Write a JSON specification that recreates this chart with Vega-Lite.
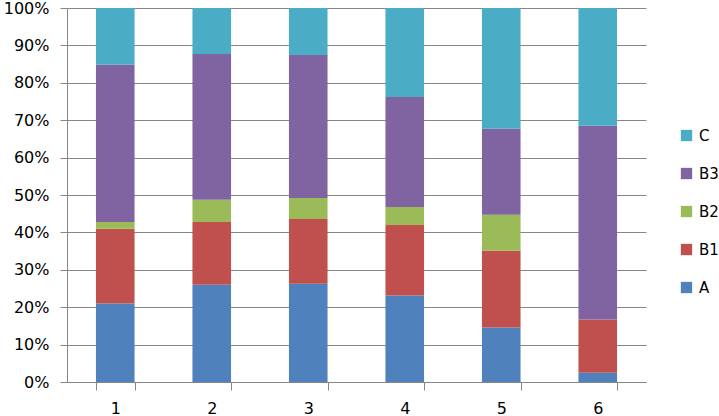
{
  "$schema": "https://vega.github.io/schema/vega-lite/v6.json",
  "width": 579,
  "height": 374,
  "autosize": {"type": "none"},
  "padding": {"left": 67, "top": 8, "right": 73, "bottom": 34},
  "background": "white",
  "config": {
    "view": {"stroke": null},
    "font": "DejaVu Sans",
    "axis": {"labelFont": "DejaVu Sans", "labelFontSize": 16, "labelColor": "#000000", "domainColor": "#868686", "tickColor": "#868686", "gridColor": "#868686", "domainWidth": 1, "tickWidth": 1, "gridWidth": 1},
    "legend": {"labelFont": "DejaVu Sans", "labelFontSize": 15, "labelColor": "#000000"}
  },
  "data": {
    "values": [
      {"cat": "1", "series": "A", "value": 21.0},
      {"cat": "1", "series": "B1", "value": 20.0},
      {"cat": "1", "series": "B2", "value": 1.8},
      {"cat": "1", "series": "B3", "value": 42.0},
      {"cat": "1", "series": "C", "value": 15.2},
      {"cat": "2", "series": "A", "value": 26.0},
      {"cat": "2", "series": "B1", "value": 16.8},
      {"cat": "2", "series": "B2", "value": 5.9},
      {"cat": "2", "series": "B3", "value": 39.0},
      {"cat": "2", "series": "C", "value": 12.3},
      {"cat": "3", "series": "A", "value": 26.3},
      {"cat": "3", "series": "B1", "value": 17.3},
      {"cat": "3", "series": "B2", "value": 5.6},
      {"cat": "3", "series": "B3", "value": 38.2},
      {"cat": "3", "series": "C", "value": 12.6},
      {"cat": "4", "series": "A", "value": 23.1},
      {"cat": "4", "series": "B1", "value": 18.9},
      {"cat": "4", "series": "B2", "value": 4.8},
      {"cat": "4", "series": "B3", "value": 29.4},
      {"cat": "4", "series": "C", "value": 23.8},
      {"cat": "5", "series": "A", "value": 14.6},
      {"cat": "5", "series": "B1", "value": 20.5},
      {"cat": "5", "series": "B2", "value": 9.6},
      {"cat": "5", "series": "B3", "value": 23.0},
      {"cat": "5", "series": "C", "value": 32.3},
      {"cat": "6", "series": "A", "value": 2.5},
      {"cat": "6", "series": "B1", "value": 14.2},
      {"cat": "6", "series": "B2", "value": 0},
      {"cat": "6", "series": "B3", "value": 51.8},
      {"cat": "6", "series": "C", "value": 31.5}
    ]
  },
  "mark": {"type": "bar"},
  "encoding": {
    "x": {
      "field": "cat", "type": "nominal", "title": null,
      "scale": {"paddingInner": 0.6, "paddingOuter": 0.3},
      "axis": {"labelAngle": 0, "tickBand": "extent", "tickSize": 8, "labelPadding": 10, "grid": false}
    },
    "y": {
      "field": "value", "type": "quantitative", "stack": "normalize", "title": null,
      "scale": {"domain": [0, 1], "nice": false},
      "axis": {"format": ".0%", "values": [0, 0.1, 0.2, 0.3, 0.4, 0.5, 0.6, 0.7, 0.8, 0.9, 1], "tickSize": 7, "labelPadding": 11, "grid": true}
    },
    "color": {
      "field": "series", "type": "nominal",
      "scale": {"domain": ["C", "B3", "B2", "B1", "A"], "range": ["#4BACC6", "#8064A2", "#9BBB59", "#C0504D", "#4F81BD"]},
      "legend": {"title": null, "orient": "none", "legendX": 612, "legendY": 120, "symbolType": "square", "symbolSize": 128, "symbolStrokeWidth": 0, "labelOffset": 5, "rowPadding": 22}
    },
    "order": {"field": "series", "sort": "ascending"}
  }
}
